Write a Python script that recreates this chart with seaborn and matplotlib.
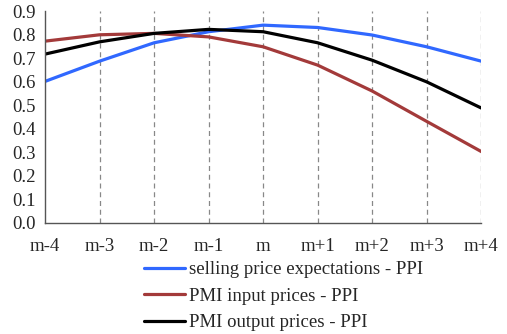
import matplotlib
matplotlib.use("Agg")
import matplotlib.pyplot as plt
import pandas as pd
import seaborn as sns

months = ['m-4', 'm-3', 'm-2', 'm-1', 'm', 'm+1', 'm+2', 'm+3', 'm+4']
selling = [0.601, 0.687, 0.765, 0.812, 0.840, 0.830, 0.798, 0.748, 0.687]
pmi_input = [0.772, 0.799, 0.805, 0.790, 0.748, 0.670, 0.560, 0.431, 0.303]
pmi_output = [0.717, 0.769, 0.805, 0.822, 0.812, 0.765, 0.691, 0.599, 0.488]

labels = ['selling price expectations - PPI', 'PMI input prices - PPI', 'PMI output prices - PPI']
colors = ['#3068ff', '#a33a3a', '#000000']

df = pd.DataFrame({'month': months * 3,
                   'pos': list(range(len(months))) * 3,
                   'value': selling + pmi_input + pmi_output,
                   'series': [labels[0]] * 9 + [labels[1]] * 9 + [labels[2]] * 9})

sns.set_style('white')
plt.rcParams['font.family'] = ['Liberation Serif', 'DejaVu Serif']

fig = plt.figure(figsize=(5.07, 3.34), dpi=100)
ax = fig.add_axes([0.089, 0.333, 0.860, 0.634])

# vertical dashed grid at each month
for i in range(1, len(months)):
    ax.axvline(i, color='#888888', linestyle=(0, (4, 3)), linewidth=0.9, zorder=0)

sns.lineplot(data=df, x='pos', y='value', hue='series', hue_order=labels,
             palette=colors, linewidth=2.3, ax=ax, legend=False)

ax.set_xlim(0, len(months) - 1)
ax.set_ylim(0, 0.9)
ax.set_xticks(range(len(months)))
ax.set_xticklabels(months)
ax.set_yticks([i / 10 for i in range(10)])
ax.set_yticklabels([f'{i / 10:.1f}' for i in range(10)])
ax.tick_params(axis='y', direction='in', length=5, width=0.8, color='#555555', labelsize=13.5, pad=7)
ax.tick_params(axis='x', length=0, labelsize=13.5, pad=11)
ax.set_xlabel('')
ax.set_ylabel('')
for s in ['top', 'right']:
    ax.spines[s].set_visible(False)
for s in ['left', 'bottom']:
    ax.spines[s].set_color('#555555')
    ax.spines[s].set_linewidth(1.0)

handles = [plt.Line2D([0], [0], color=c, linewidth=2.3) for c in colors]
fig.legend(handles, labels, loc='upper left', bbox_to_anchor=(0.284, 0.218),
           frameon=False, fontsize=13.5, handlelength=2.2, handletextpad=0.2,
           labelspacing=0.5, borderaxespad=0, borderpad=0)

fig.savefig('out.png', dpi=100)
